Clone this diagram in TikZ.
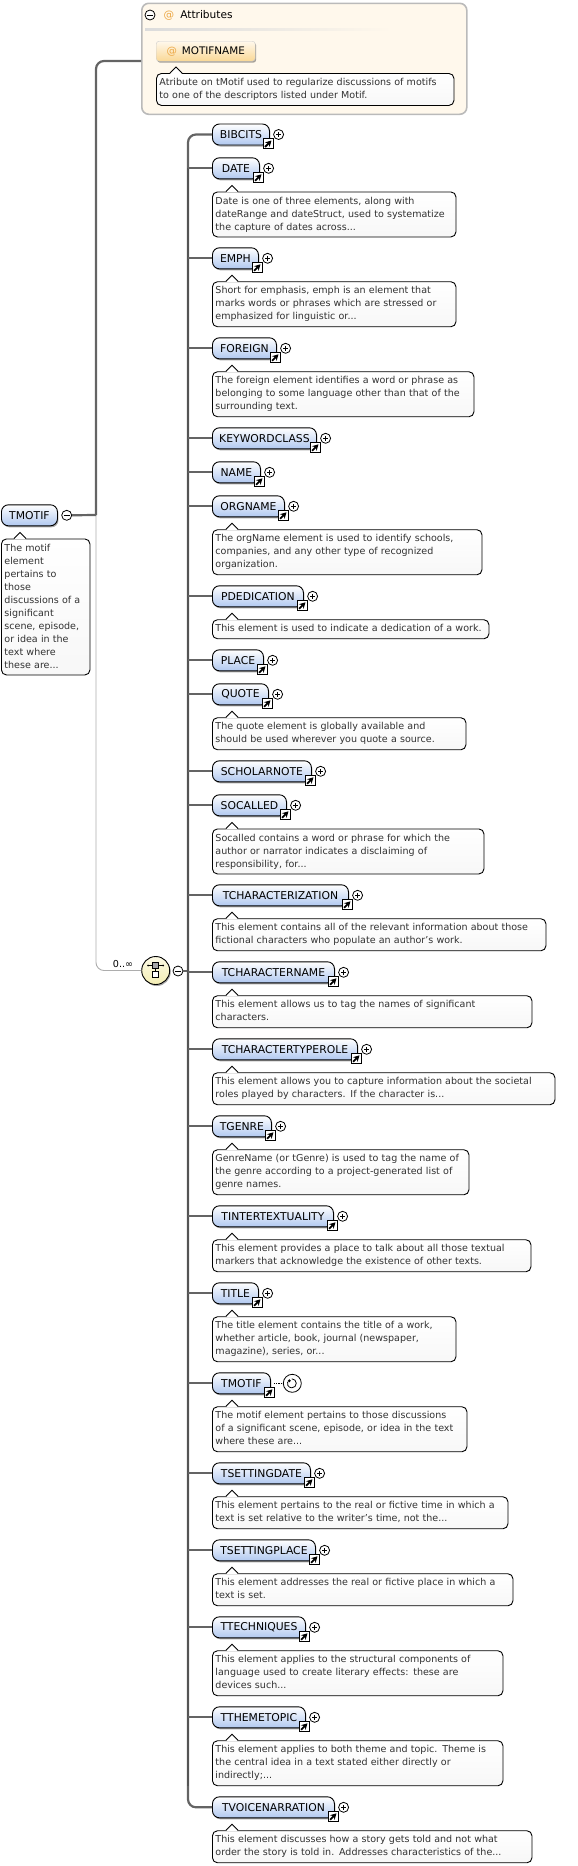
\documentclass[tikz,border=0pt]{standalone}
\usepackage{fontspec}
\setmainfont{DejaVu Sans}
\usepackage{xcolor}
\usepackage{tikz}
\usetikzlibrary{positioning, arrows.meta, shapes.geometric, calc, shadows}
\definecolor{elemblue}{RGB}{176, 200, 240}
\definecolor{linegray}{RGB}{100, 100, 100}
\definecolor{trunkgray}{RGB}{84, 84, 84}
\definecolor{attrorange}{RGB}{236, 168, 70}
\definecolor{attrfill}{RGB}{255, 248, 236}
\definecolor{attrgold}{RGB}{250, 216, 150}
\definecolor{seqyellow}{RGB}{244, 238, 180}
\definecolor{doctext}{RGB}{50, 50, 50}

\begin{document}
\begin{tikzpicture}[
  x=1pt, y=-1pt,
  shadowed/.style={drop shadow={shadow xshift=1pt, shadow yshift=-1.5pt, opacity=0.35, fill=black}},
  elem/.style={draw, line width=0.9pt, rounded corners=7pt, anchor=west, minimum width=#1, minimum height=21pt, inner xsep=0pt, inner ysep=0pt, top color=white, bottom color=elemblue, shadowed, font=\fontsize{10.8}{13}\selectfont},
  doc/.style={draw, line width=0.9pt, rounded corners=5pt, anchor=north west, align=left, inner xsep=3pt, inner ysep=3pt, text width=#1pt-6.5pt, top color=white, bottom color=black!3, text=doctext, font=\fontsize{9.55}{13}\selectfont, execute at begin node=\strut, execute at end node=\strut},
  toggle/.style={draw, line width=0.8pt, circle, fill=white, minimum size=10pt, inner sep=0pt},
  branch/.style={draw=linegray, line width=2.2pt},
  tip/.pic={
    \fill[white] (-6,0.9) -- (0,-6) -- (6,0.9) -- cycle;
    \draw[line width=0.9pt] (-6,0) -- (0,-6) -- (6,0);
  },
  minus/.pic={
    \draw[line width=0.8pt] (-3,0) -- (3,0);
  },
  linkbox/.pic={
    \draw[line width=0.9pt, fill=white] (-6.7,4.3) rectangle (3.3,14.3);
    \draw[line width=1.8pt, -{Stealth[length=6pt, width=6.5pt]}] (-4.8,12.4) -- (1.6,6);
  },
  refmark/.pic={
    \pic {linkbox};
    \draw[line width=0.8pt, fill=white] (8.7,0) circle (5);
    \draw[line width=0.8pt] (6.2,0) -- (11.2,0);
    \draw[line width=0.8pt] (8.7,-2.5) -- (8.7,2.5);
  },
  seqicon/.pic={
    \draw[line width=0.8pt] (0,-5) -- (0,3);
    \draw[line width=0.8pt] (-7.5,-5) -- (7.5,-5);
    \fill (-7.5,-5) circle (1);
    \fill (7.5,-5) circle (1);
    \draw[line width=0.8pt, fill=gray!70] (-3,-8) rectangle (3,-2);
    \draw[line width=0.8pt, fill=white] (-3,1) rectangle (3,7);
  },
  recursion/.pic={
    \draw[line width=0.8pt] (-0.5,-4.5) arc (-90:200:4.5);
    \fill (-3,-2.5) circle (1.6);
  }
]
  \useasboundingbox (0,0) rectangle (578,1866);

  \node[draw=black!27, line width=1.6pt, fill=attrfill, rounded corners=7pt, anchor=north west, minimum width=325pt, minimum height=111pt] (attrs) at (141,2.5) {};
  \node[toggle] (attrtoggle) at (150,15) {};
  \pic at (attrtoggle) {minus};
  \node[anchor=west, font=\fontsize{10.6}{13}\selectfont, inner sep=0pt] (attrtitle) at (163.5,15) {\textcolor{attrorange}{@}\hspace{6pt}Attributes};
  \shade[left color=black!14, right color=attrfill] (145,28.5) rectangle (392,30.5);
  \node[draw=black!20, rounded corners=3pt, anchor=north west, minimum width=99pt, minimum height=20pt, inner sep=0pt, top color=attrfill, bottom color=attrgold, shadowed, font=\fontsize{10.4}{13}\selectfont] (motifname) at (156,41) {\textcolor{attrorange}{@}\hspace{5pt}MOTIFNAME};
  \node[doc=298] (motifnamedoc) at (156,73) {Atribute on tMotif used to regularize discussions of motifs\\to one of the descriptors listed under Motif.};
  \pic at ([xshift=20pt]motifnamedoc.north west) {tip};

  \coordinate (attrin) at (141,61);
  \coordinate (fork) at (96,515);
  \coordinate (trunk) at (188,971);

  \node[elem=56] (motif) at (1,515.3) {TMOTIF};
  \node[doc=89] (motifdoc) at (1,538.5) {The motif\\element\\pertains to\\those\\discussions of a\\significant\\scene, episode,\\or idea in the\\text where\\these are...};
  \pic at ([xshift=19pt]motifdoc.north west) {tip};
  \node[toggle] (motiftoggle) at (66.7,515.3) {};
  \pic at (motiftoggle) {minus};

  \node[draw, line width=0.9pt, circle, minimum size=28pt, inner sep=0pt, top color=seqyellow!35, bottom color=seqyellow, shadowed] (seq) at (155.7,970.5) {};
  \pic at (seq) {seqicon};
  \node[toggle] (seqtoggle) at (178,971) {};
  \pic at (seqtoggle) {minus};
  \node[font=\fontsize{9.6}{13}\selectfont, inner sep=0pt] (occurs) at (123,963.5) {0..∞};

  \node[elem=57] (bibcits) at (212,134.5) {BIBCITS};
  \node[elem=47] (date) at (212,168.3) {DATE};
  \node[elem=46] (emph) at (212,258.3) {EMPH};
  \node[elem=64] (foreign) at (212,348.3) {FOREIGN};
  \node[elem=104] (keywordclass) at (212,438.3) {KEYWORDCLASS};
  \node[elem=48] (name) at (212,472.3) {NAME};
  \node[elem=72] (orgname) at (212,506.3) {ORGNAME};
  \node[elem=91] (pdedication) at (212,596.3) {PDEDICATION};
  \node[elem=51] (place) at (212,660.3) {PLACE};
  \node[elem=56] (quote) at (212,694.3) {QUOTE};
  \node[elem=99] (scholarnote) at (212,771.3) {SCHOLARNOTE};
  \node[elem=74] (socalled) at (212,805.3) {SOCALLED};
  \node[elem=136] (tcharacterization) at (212,895.3) {TCHARACTERIZATION};
  \node[elem=122] (tcharactername) at (212,972.3) {TCHARACTERNAME};
  \node[elem=145] (tcharactertyperole) at (212,1049.3) {TCHARACTERTYPEROLE};
  \node[elem=59] (tgenre) at (212,1126.3) {TGENRE};
  \node[elem=121] (tintertextuality) at (212,1216.3) {TINTERTEXTUALITY};
  \node[elem=46] (title) at (212,1293.3) {TITLE};
  \node[elem=58] (tmotif) at (212,1383.3) {TMOTIF};
  \node[elem=98] (tsettingdate) at (212,1473.3) {TSETTINGDATE};
  \node[elem=103] (tsettingplace) at (212,1550.3) {TSETTINGPLACE};
  \node[elem=93] (ttechniques) at (212,1627.3) {TTECHNIQUES};
  \node[elem=93] (tthemetopic) at (212,1717.3) {TTHEMETOPIC};
  \node[elem=122] (tvoicenarration) at (212,1807.3) {TVOICENARRATION};

  \node[doc=244] (datedoc) at (212,191.5) {Date is one of three elements, along with\\dateRange and dateStruct, used to systematize\\the capture of dates across...};
  \node[doc=244] (emphdoc) at (212,281.3) {Short for emphasis, emph is an element that\\marks words or phrases which are stressed or\\emphasized for linguistic or...};
  \node[doc=262] (foreigndoc) at (212,371.3) {The foreign element identifies a word or phrase as\\belonging to some language other than that of the\\surrounding text.};
  \node[doc=270] (orgnamedoc) at (212,529.3) {The orgName element is used to identify schools,\\companies, and any other type of recognized\\organization.};
  \node[doc=277] (pdedicationdoc) at (212,619.3) {This element is used to indicate a dedication of a work.};
  \node[doc=254] (quotedoc) at (212,717.3) {The quote element is globally available and\\should be used wherever you quote a source.};
  \node[doc=272] (socalleddoc) at (212,828.5) {Socalled contains a word or phrase for which the\\author or narrator indicates a disclaiming of\\responsibility, for...};
  \node[doc=334] (tcharacterizationdoc) at (212,918.3) {This element contains all of the relevant information about those\\fictional characters who populate an author's work.};
  \node[doc=320] (tcharacternamedoc) at (212,995.3) {This element allows us to tag the names of significant\\characters.};
  \node[doc=343] (tcharactertyperoledoc) at (212,1072.3) {This element allows you to capture information about the societal\\roles played by characters. If the character is...};
  \node[doc=257] (tgenredoc) at (212,1149.3) {GenreName (or tGenre) is used to tag the name of\\the genre according to a project-generated list of\\genre names.};
  \node[doc=319] (tintertextualitydoc) at (212,1239.3) {This element provides a place to talk about all those textual\\markers that acknowledge the existence of other texts.};
  \node[doc=244] (titledoc) at (212,1316.3) {The title element contains the title of a work,\\whether article, book, journal (newspaper,\\magazine), series, or...};
  \node[doc=255] (tmotifdoc) at (212,1406.3) {The motif element pertains to those discussions\\of a significant scene, episode, or idea in the text\\where these are...};
  \node[doc=296] (tsettingdatedoc) at (212,1496.3) {This element pertains to the real or fictive time in which a\\text is set relative to the writer's time, not the...};
  \node[doc=301] (tsettingplacedoc) at (212,1573.3) {This element addresses the real or fictive place in which a\\text is set.};
  \node[doc=291] (ttechniquesdoc) at (212,1650.3) {This element applies to the structural components of\\language used to create literary effects: these are\\devices such...};
  \node[doc=291] (tthemetopicdoc) at (212,1740.3) {This element applies to both theme and topic. Theme is\\the central idea in a text stated either directly or\\indirectly;...};
  \node[doc=320] (tvoicenarrationdoc) at (212,1830.3) {This element discusses how a story gets told and not what\\order the story is told in. Addresses characteristics of the...};

  \pic at (bibcits.east) {refmark};
  \pic at (date.east) {refmark};
  \pic at (emph.east) {refmark};
  \pic at (foreign.east) {refmark};
  \pic at (keywordclass.east) {refmark};
  \pic at (name.east) {refmark};
  \pic at (orgname.east) {refmark};
  \pic at (pdedication.east) {refmark};
  \pic at (place.east) {refmark};
  \pic at (quote.east) {refmark};
  \pic at (scholarnote.east) {refmark};
  \pic at (socalled.east) {refmark};
  \pic at (tcharacterization.east) {refmark};
  \pic at (tcharactername.east) {refmark};
  \pic at (tcharactertyperole.east) {refmark};
  \pic at (tgenre.east) {refmark};
  \pic at (tintertextuality.east) {refmark};
  \pic at (title.east) {refmark};
  \pic at (tmotif.east) {linkbox};
  \pic at (tsettingdate.east) {refmark};
  \pic at (tsettingplace.east) {refmark};
  \pic at (ttechniques.east) {refmark};
  \pic at (tthemetopic.east) {refmark};
  \pic at (tvoicenarration.east) {refmark};

  \pic at ([xshift=20pt]datedoc.north west) {tip};
  \pic at ([xshift=20pt]emphdoc.north west) {tip};
  \pic at ([xshift=20pt]foreigndoc.north west) {tip};
  \pic at ([xshift=20pt]orgnamedoc.north west) {tip};
  \pic at ([xshift=20pt]pdedicationdoc.north west) {tip};
  \pic at ([xshift=20pt]quotedoc.north west) {tip};
  \pic at ([xshift=20pt]socalleddoc.north west) {tip};
  \pic at ([xshift=20pt]tcharacterizationdoc.north west) {tip};
  \pic at ([xshift=20pt]tcharacternamedoc.north west) {tip};
  \pic at ([xshift=20pt]tcharactertyperoledoc.north west) {tip};
  \pic at ([xshift=20pt]tgenredoc.north west) {tip};
  \pic at ([xshift=20pt]tintertextualitydoc.north west) {tip};
  \pic at ([xshift=20pt]titledoc.north west) {tip};
  \pic at ([xshift=20pt]tmotifdoc.north west) {tip};
  \pic at ([xshift=20pt]tsettingdatedoc.north west) {tip};
  \pic at ([xshift=20pt]tsettingplacedoc.north west) {tip};
  \pic at ([xshift=20pt]ttechniquesdoc.north west) {tip};
  \pic at ([xshift=20pt]tthemetopicdoc.north west) {tip};
  \pic at ([xshift=20pt]tvoicenarrationdoc.north west) {tip};

  \node[draw, line width=0.8pt, circle, minimum size=18pt, inner sep=0pt, fill=white] (tmotifref) at (292.3,1383.3) {};
  \pic at (tmotifref) {recursion};
  \draw[line width=1.2pt, densely dotted] ([xshift=3pt]tmotif.east) -- (tmotifref);

  \draw[black!32, line width=0.9pt, rounded corners=8pt] (fork) |- (seq);
  \draw[branch, rounded corners=8pt] (fork) |- (attrin);
  \draw[branch] (motiftoggle) -- (fork);
  \draw[branch] (seqtoggle) -- (trunk);
  \draw[branch, rounded corners=8pt] (bibcits) -| (trunk) |- (tvoicenarration);
  \draw[draw=trunkgray, line width=2.8pt] (trunk |- date) -- (trunk |- tthemetopicdoc.south);
  \draw[branch] (trunk |- date) -- (date);
  \draw[branch] (trunk |- emph) -- (emph);
  \draw[branch] (trunk |- foreign) -- (foreign);
  \draw[branch] (trunk |- keywordclass) -- (keywordclass);
  \draw[branch] (trunk |- name) -- (name);
  \draw[branch] (trunk |- orgname) -- (orgname);
  \draw[branch] (trunk |- pdedication) -- (pdedication);
  \draw[branch] (trunk |- place) -- (place);
  \draw[branch] (trunk |- quote) -- (quote);
  \draw[branch] (trunk |- scholarnote) -- (scholarnote);
  \draw[branch] (trunk |- socalled) -- (socalled);
  \draw[branch] (trunk |- tcharacterization) -- (tcharacterization);
  \draw[branch] (trunk |- tcharactername) -- (tcharactername);
  \draw[branch] (trunk |- tcharactertyperole) -- (tcharactertyperole);
  \draw[branch] (trunk |- tgenre) -- (tgenre);
  \draw[branch] (trunk |- tintertextuality) -- (tintertextuality);
  \draw[branch] (trunk |- title) -- (title);
  \draw[branch] (trunk |- tmotif) -- (tmotif);
  \draw[branch] (trunk |- tsettingdate) -- (tsettingdate);
  \draw[branch] (trunk |- tsettingplace) -- (tsettingplace);
  \draw[branch] (trunk |- ttechniques) -- (ttechniques);
  \draw[branch] (trunk |- tthemetopic) -- (tthemetopic);
\end{tikzpicture}
\end{document}
